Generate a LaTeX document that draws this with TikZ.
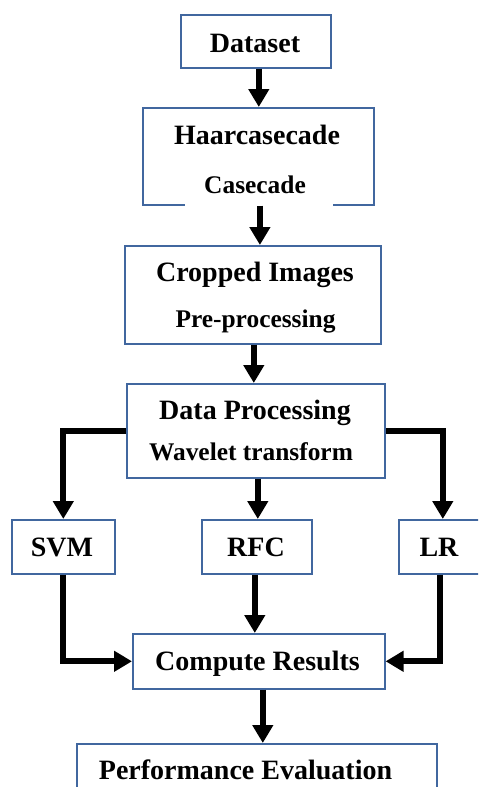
\documentclass[tikz,border=0pt]{standalone}
\usepackage{fontspec}
\setmainfont{Liberation Serif}
\usetikzlibrary{arrows.meta}
\begin{document}
\begin{tikzpicture}[x=0.5pt, y=-0.5pt,
  box/.style={draw=boxblue, line width=0.8pt, fill=white, inner sep=0pt, anchor=north west},
  main/.style={font=\bfseries\fontsize{14}{16}\selectfont, anchor=base, inner sep=0pt},
  sub/.style={font=\bfseries\fontsize{12.7}{15}\selectfont, anchor=base, inner sep=0pt},
  arr/.style={line width=3pt, -{Triangle[width=10pt,length=9pt]}}]
\definecolor{boxblue}{HTML}{41679F}
\clip (0,0) rectangle (478,787);
\fill[white] (0,0) rectangle (478,787);

% boxes
\node[box, minimum width=75pt, minimum height=26.5pt] (data) at (180,14) {};
\node[box, minimum width=115.5pt, minimum height=48.5pt] (haar) at (142,107) {};
\draw[white, line width=2pt] (185,204) -- (333,204);
\node[box, minimum width=128pt, minimum height=49pt] (crop) at (124,245) {};
\node[box, minimum width=129pt, minimum height=47pt] (dp) at (126,383) {};
\node[box, minimum width=51.5pt, minimum height=27pt] (svm) at (11,519) {};
\node[box, minimum width=55pt, minimum height=27pt] (rfc) at (201,519) {};
\node[box, minimum width=41pt, minimum height=27pt] (lr) at (398,519) {};
\node[box, minimum width=126pt, minimum height=27.5pt] (comp) at (132,633) {};
\node[box, minimum width=180pt, minimum height=40pt] (perf) at (76,743) {};

% texts
\node[main] (dataT) at (255,52) {Dataset};
\node[main] (haarT) at (257,144) {Haarcasecade};
\node[sub] (haarS) at (255,193) {Casecade};
\node[main] (cropT) at (255,281) {Cropped Images};
\node[sub] (cropS) at (255.5,327) {Pre-processing};
\node[main] (dpT) at (255,419) {Data Processing};
\node[sub] (dpS) at (251,460) {Wavelet transform};
\node[main] (svmT) at (62,556) {SVM};
\node[main] (rfcT) at (256,556) {RFC};
\node[main] (lrT) at (439,556) {LR};
\node[main] (compT) at (257.5,670) {Compute Results};
\node[main] (perfT) at (245.5,779) {Performance Evaluation};

% arrows
\draw[arr] ([xshift=1.5pt]data.south) -- ([xshift=1.5pt]data.south |- haar.north);
\draw[arr] ([xshift=0.8pt]haar.south) -- ([xshift=0.8pt]haar.south |- crop.north);
\draw[arr] ([xshift=0.5pt]crop.south) -- ([xshift=0.5pt]crop.south |- dp.north);
\draw[arr] ([xshift=0.5pt]rfc.north |- dp.south) -- ([xshift=0.5pt]rfc.north);
\draw[arr] (dp.west) -| (svm.north);
\draw[arr] (dp.east) -| ([xshift=1.5pt]lr.north);
\draw[arr] ([xshift=-1pt]rfc.south) -- ([xshift=-1pt]rfc.south |- comp.north);
\draw[arr] (svm.south) |- (comp.west);
\draw[arr] (lr.south) |- (comp.east);
\draw[arr] ([xshift=2pt]comp.south) -- ([xshift=2pt]comp.south |- perf.north);
\end{tikzpicture}
\end{document}
